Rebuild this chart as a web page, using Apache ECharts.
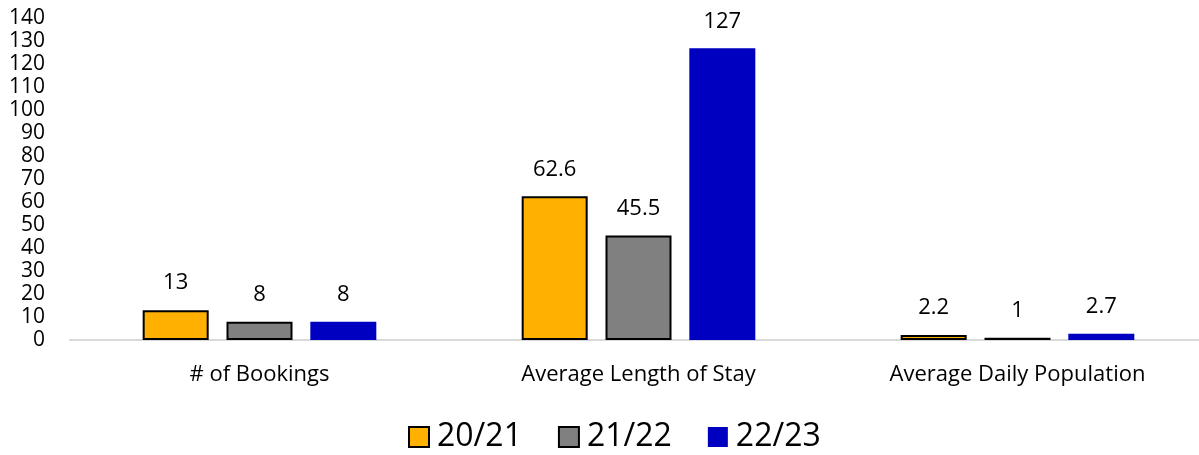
<!DOCTYPE html>
<html>
<head>
<meta charset="utf-8">
<script src="https://cdn.jsdelivr.net/npm/echarts@6/dist/echarts.min.js"></script>
<style>
  html, body { margin: 0; padding: 0; background: #fff; }
  #chart { width: 1199px; height: 455px; }
</style>
</head>
<body>
<div id="chart"></div>
<script>
const categories = ['# of Bookings', 'Average Length of Stay', 'Average Daily Population'];
const seriesNames = ['20/21', '21/22', '22/23'];
const values2021 = [13, 62.6, 2.2];
const values2122 = [8, 45.5, 1];
const values2223 = [8, 127, 2.7];

const fontFamily = '"Open Sans", "Noto Sans", sans-serif';

function bar(name, data, color, border) {
  return {
    name: name,
    type: 'bar',
    data: data,
    barWidth: 66,
    barGap: '27%',
    itemStyle: {
      color: color,
      borderColor: border ? '#000' : color,
      borderWidth: border ? 2 : 0,
    },
    label: {
      show: true,
      position: 'top',
      distance: 16,
      color: '#000',
      fontSize: 22,
      fontFamily: fontFamily,
    },
  };
}

const option = {
  backgroundColor: '#fff',
  animation: false,
  textStyle: { fontFamily: fontFamily },
  grid: {
    left: 70,
    top: 18.5,
    width: 1137,
    height: 321.5,
    outerBoundsMode: 'none',
  },
  legend: {
    data: seriesNames,
    bottom: -3,
    left: 403,
    icon: 'rect',
    itemWidth: 20,
    itemHeight: 20,
    itemGap: 36,
    textStyle: { fontSize: 32, color: '#000', fontFamily: fontFamily, padding: [0, 0, 0, 3] },
  },
  xAxis: {
    type: 'category',
    data: categories,
    axisLine: { lineStyle: { color: '#d9d9d9', width: 2 } },
    axisTick: { show: false },
    axisLabel: { color: '#000', fontSize: 22, margin: 24, fontFamily: fontFamily },
  },
  yAxis: {
    type: 'value',
    min: 0,
    max: 140,
    interval: 10,
    splitLine: { show: false },
    axisLine: { show: false },
    axisTick: { show: false },
    axisLabel: { color: '#000', fontSize: 21, margin: 25, fontFamily: fontFamily },
  },
  series: [
    bar(seriesNames[0], values2021, '#ffb000', true),
    bar(seriesNames[1], values2122, '#808080', true),
    bar(seriesNames[2], values2223, '#0000c0', false),
  ],
};

const chart = echarts.init(document.getElementById('chart'));
chart.setOption(option);
</script>
</body>
</html>
